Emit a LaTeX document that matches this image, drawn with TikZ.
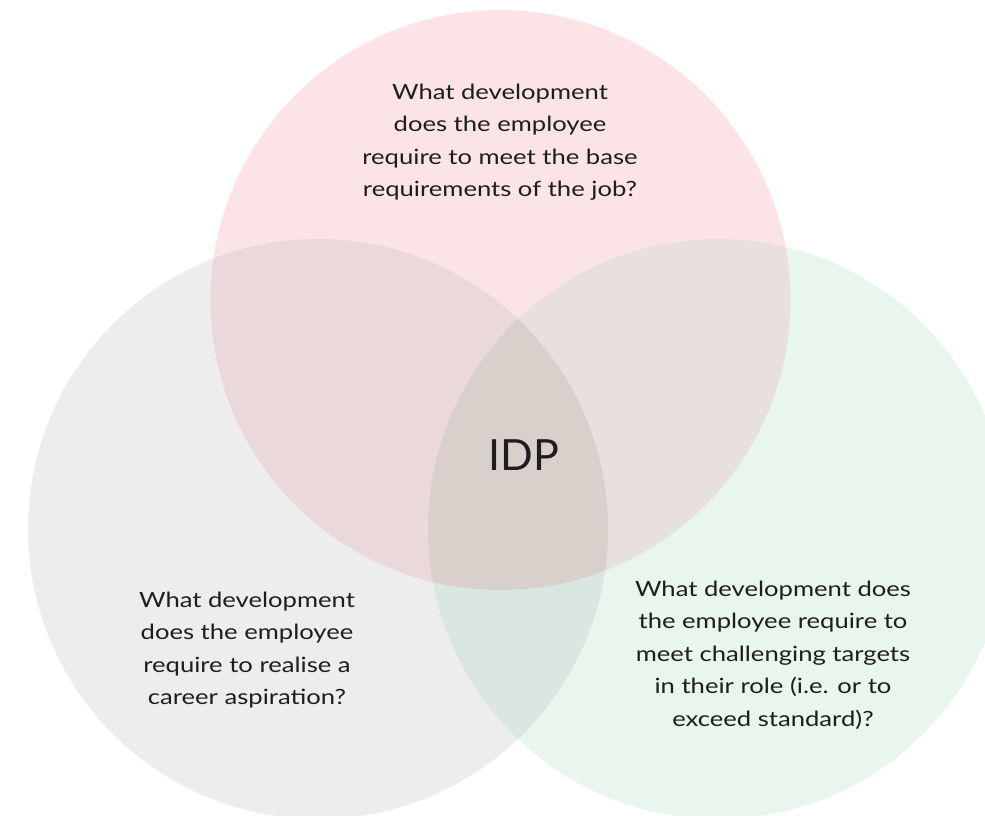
\documentclass[tikz,border=0pt]{standalone}
\usepackage{fontspec}
\setmainfont[FakeStretch=1.22]{Lato}
\newfontfamily\idpfont{Lato}
\definecolor{cP}{HTML}{FCE4E6}
\definecolor{cG}{HTML}{EDEDED}
\definecolor{cN}{HTML}{E8F6EE}
\definecolor{cPG}{HTML}{EBD8DA}
\definecolor{cPN}{HTML}{E7E0DC}
\definecolor{cGN}{HTML}{DAE6E0}
\definecolor{cPGN}{HTML}{D9D0CC}
\definecolor{txt}{HTML}{1E1E1E}
\tikzset{
  question/.style={align=center, text=txt, font=\fontsize{21}{32.4}\selectfont, inner sep=0pt},
  titletext/.style={text=txt, font=\idpfont\fontsize{43}{50}\selectfont, inner sep=0pt}
}
\begin{document}
\begin{tikzpicture}[x=1pt,y=-1pt]
\useasboundingbox (0,0) rectangle (985,816);
\clip (0,0) rectangle (985,816);
\def\R{290}
\coordinate (cp) at (500.5,300);
\coordinate (cg) at (318,529);
\coordinate (cn) at (718,529);
% single circles
\fill[cP] (cp) circle[radius=\R];
\fill[cG] (cg) circle[radius=\R];
\fill[cN] (cn) circle[radius=\R];
% pairwise overlaps
\begin{scope}
  \clip (cp) circle[radius=\R];
  \fill[cPG] (cg) circle[radius=\R];
  \fill[cPN] (cn) circle[radius=\R];
\end{scope}
\begin{scope}
  \clip (cg) circle[radius=\R];
  \fill[cGN] (cn) circle[radius=\R];
\end{scope}
% triple overlap
\begin{scope}
  \clip (cp) circle[radius=\R];
  \clip (cg) circle[radius=\R];
  \fill[cPGN] (cn) circle[radius=\R];
\end{scope}
% texts
\node[question] (qtop) at (500,142) {What development\\does the employee\\require to meet the base\\requirements of the job?};
\node[question] (qleft) at (247,650) {What development\\does the employee\\require to realise a\\career aspiration?};
\node[question] (qright) at (773,655) {What development does\\the employee require to\\meet challenging targets\\in their role (i.e. or to\\exceed standard)?};
\node[titletext] (idp) at (524,455) {IDP};
\end{tikzpicture}
\end{document}
